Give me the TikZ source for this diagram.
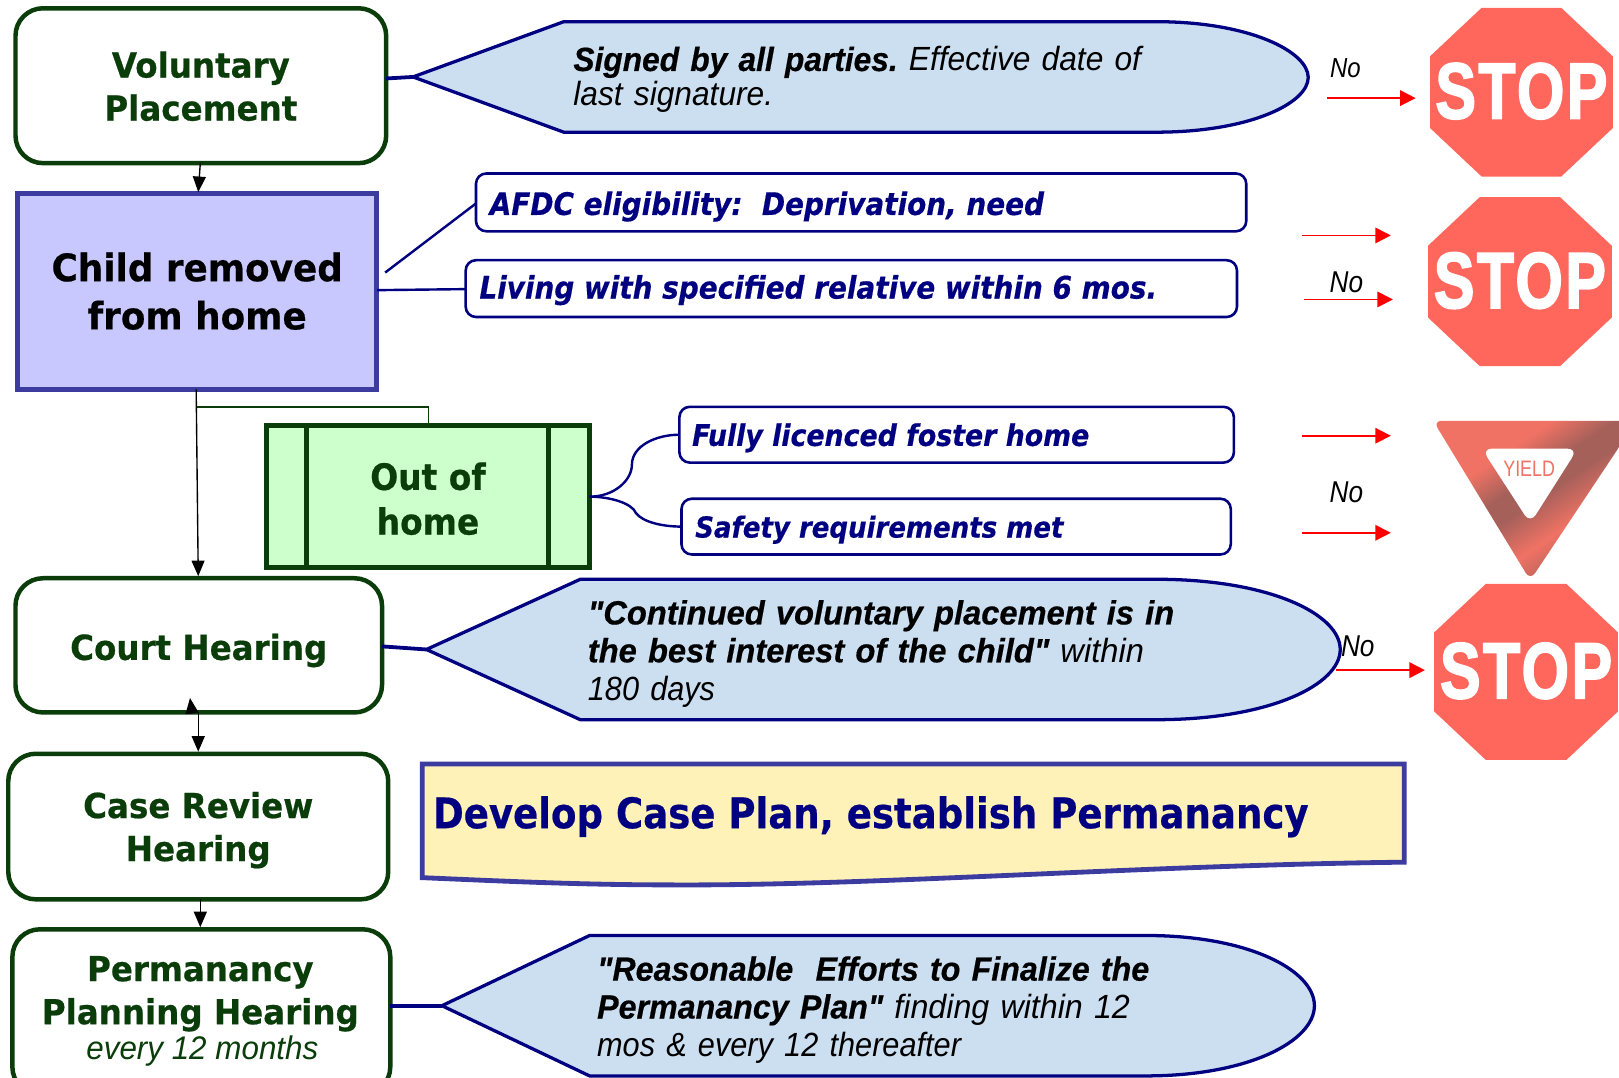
\documentclass[tikz,border=0pt]{standalone}
\usepackage{fontspec}
\setmainfont{Liberation Sans}
\newfontfamily\vfont[FakeStretch=0.945,BoldFeatures={FakeBold=0.5}]{DejaVu Sans}
\newfontfamily\vfontd[FakeStretch=0.91,BoldFeatures={FakeBold=0.5}]{DejaVu Sans}
\newfontfamily\vfontn[FakeStretch=0.90,BoldItalicFeatures={FakeBold=0.5}]{DejaVu Sans}
\newfontfamily\vfontc[FakeStretch=0.88,BoldFeatures={FakeBold=0.5}]{DejaVu Sans}
\newfontfamily\cfonta[FakeStretch=0.945,BoldItalicFeatures={FakeBold=0.5}]{Liberation Sans}
\newfontfamily\cfontb[FakeStretch=0.973,BoldItalicFeatures={FakeBold=0.5}]{Liberation Sans}
\newfontfamily\cfontc[FakeStretch=0.96,BoldItalicFeatures={FakeBold=0.5}]{Liberation Sans}
\newfontfamily\cfonti[FakeStretch=0.915]{Liberation Sans}
\newfontfamily\nofont[FakeStretch=0.87]{Liberation Sans}
\newfontfamily\stopfont[UprightFont=* Bold,FakeBold=2.5,LetterSpace=4]{Liberation Sans}
\usetikzlibrary{arrows.meta}
\definecolor{dgreen}{HTML}{0B3D0B}
\definecolor{navyb}{HTML}{000080}
\definecolor{skyf}{HTML}{CCDFF1}
\definecolor{purp}{HTML}{3C3CA0}
\definecolor{lilac}{HTML}{C8C8FF}
\definecolor{mint}{HTML}{CCFFCC}
\definecolor{cream}{HTML}{FFF2B8}
\definecolor{stopred}{HTML}{FF665C}
\definecolor{yd}{HTML}{A5605A}
\definecolor{yl}{HTML}{F07264}
\pgfdeclareverticalshading{yieldsh}{100bp}{
 color(0bp)=(yd); color(27bp)=(yd); color(39bp)=(yl); color(50bp)=(yd); color(56bp)=(yd); color(66bp)=(yl); color(100bp)=(yl)}
\tikzset{
 x=0.6pt,y=-0.6pt,
 gbox/.style={draw=dgreen,line width=2.6pt,rounded corners=16pt,fill=white},
 bbox/.style={draw=navyb,line width=1.5pt,rounded corners=6pt,fill=white},
 callout/.style={draw=navyb,line width=1.9pt,fill=skyf},
 gtext/.style={font=\vfont\bfseries,text=dgreen,align=center,inner sep=0pt},
 ntext/.style={text=navyb,anchor=west,inner sep=0pt},
 ctext/.style={anchor=west,align=left,inner sep=0pt},
 nolabel/.style={inner sep=0pt},
 arr/.style={draw=black,line width=0.8pt,-{Triangle[length=9pt,width=7.5pt]}},
 redarr/.style={draw=red,line width=1pt,-{Triangle[length=9pt,width=9pt]}},
 link/.style={draw=navyb,line width=1.4pt},
 stoptext/.style={font=\stopfont\fontsize{46}{46}\selectfont,text=white,inner sep=0pt},
}
\newcommand{\stopsign}[6]{% name,left,right,top,bottom,textscale
 \fill[stopred] ({#2+50},#4) -- ({#3-50},#4) -- (#3,{#4+47}) -- (#3,{#5-47}) -- ({#3-50},#5) -- ({#2+50},#5) -- (#2,{#5-47}) -- (#2,{#4+47}) -- cycle;
 \node[stoptext,xscale=#6] (#1) at ({(#2+#3)/2},{(#4+#5)/2-1}) {STOP};
}
\newcommand{\qq}{\symbol{34}}
\begin{document}
\begin{tikzpicture}
\useasboundingbox (0,0) rectangle (1568,1044);
% left column boxes
\path[gbox] (15,8) rectangle (374,158);
\node[gtext,font=\vfont\bfseries\fontsize{20}{25}\selectfont] (vol) at (194.5,83.5) {Voluntary\\Placement};
\path[draw=purp,line width=2.8pt,fill=lilac] (17,187) rectangle (365,377);
\node[gtext,text=black,font=\vfont\bfseries\fontsize{22}{28}\selectfont] (child) at (191,282) {Child removed\\from home};
\path[draw=dgreen,line width=3pt,fill=mint] (258,412) rectangle (571,550);
\draw[dgreen,line width=3pt] (297,412) -- (297,550) (531,412) -- (531,550);
\node[gtext,font=\vfontd\bfseries\fontsize{21}{26}\selectfont] (out) at (414.5,483) {Out of\\home};
\path[gbox] (15,560) rectangle (370,690);
\node[gtext,font=\vfont\bfseries\fontsize{20}{25}\selectfont] (court) at (192.5,630) {Court Hearing};
\path[gbox] (8,730) rectangle (376,871);
\node[gtext,font=\vfont\bfseries\fontsize{20}{25}\selectfont] (case) at (192,804) {Case Review\\Hearing};
\path[gbox] (12,900) rectangle (378,1060);
\node[gtext,font=\vfont\bfseries\fontsize{20}{25}\selectfont] (perm) at (194,962.5) {Permanancy\\Planning Hearing};
\node[font=\cfontc\itshape\fontsize{19}{22}\selectfont,text=dgreen,inner sep=0pt] (every) at (196,1018) {every 12 months};
% connector anchors
\coordinate (volS) at (194,158);
\coordinate (childN) at (192,186);
\coordinate (childS) at (190,377);
\coordinate (courtN) at (192,558);
\coordinate (courtS) at (192,690);
\coordinate (caseN) at (192,728);
\coordinate (caseS) at (194,871);
\coordinate (permN) at (194,898);
\coordinate (outN) at (415,412);
\coordinate (branch) at (190.5,394);
\coordinate (upA) at (186,691);
\coordinate (upB) at (184,676);
\draw[arr] (volS) -- (childN);
\draw[arr] (childS) -- (courtN);
\draw[arr] (courtS) -- (caseN);
\draw[arr] (caseS) -- (permN);
\draw[arr] (upA) -- (upB);
\draw[dgreen,line width=0.9pt] (branch) -| (outN);
% callouts
\coordinate (tipA) at (400,74.5);
\coordinate (tipB) at (413,629);
\coordinate (tipC) at (428,974);
\path[callout] (tipA) -- (546,21) -- (1120,21) .. controls (1210,21) and (1267,50) .. (1267,75) .. controls (1267,100) and (1210,128) .. (1120,128) -- (546,128) -- cycle;
\path[callout] (tipB) -- (562,561) -- (1120,561) .. controls (1230,561) and (1298,595) .. (1298,629) .. controls (1298,663) and (1230,697) .. (1120,697) -- (562,697) -- cycle;
\path[callout] (tipC) -- (571,906) -- (1110,906) .. controls (1210,906) and (1273,940) .. (1273,974) .. controls (1273,1008) and (1210,1042) .. (1110,1042) -- (571,1042) -- cycle;
\coordinate (volE) at (374,76);
\coordinate (courtE) at (370,626);
\coordinate (permE) at (378,974);
\draw[navyb,line width=2.2pt] (volE) -- (tipA);
\draw[navyb,line width=2.2pt] (courtE) -- (tipB);
\draw[navyb,line width=2.2pt] (permE) -- (tipC);
\node[ctext,text width=600pt,font=\cfonta\itshape\fontsize{19.5}{20}\selectfont] (ta) at (555,77) {\textbf{Signed by all parties.}\ Effective date of\\last signature.};
\node[ctext,text width=600pt,font=\cfontb\itshape\fontsize{19.5}{22}\selectfont] (tb) at (569,633) {\textbf{\qq Continued voluntary placement is in}\\\textbf{the best interest of the child\qq} within\\{\cfonti\itshape 180 days}};
\node[ctext,text width=600pt,font=\cfontc\itshape\fontsize{19.5}{22}\selectfont] (tc) at (578,978) {\textbf{\qq Reasonable\ \ Efforts to Finalize the}\\\textbf{Permanancy Plan\qq} finding within 12\\{\cfonti\itshape mos \& every 12 thereafter}};
% blue boxes
\path[bbox] (461,168) rectangle (1207,224);
\node[ntext,font=\vfontn\bfseries\itshape\fontsize{18}{22}\selectfont] (afdc) at (474,200) {AFDC eligibility:\ \ Deprivation, need};
\path[bbox] (451,252) rectangle (1198,307);
\node[ntext,font=\vfontn\bfseries\itshape\fontsize{18}{22}\selectfont] (living) at (464,281) {Living with specified relative within 6 mos.};
\path[bbox] (658,394) rectangle (1195,448);
\node[ntext,font=\vfontn\bfseries\itshape\fontsize{17.3}{22}\selectfont] (fully) at (670,424) {Fully licenced foster home};
\path[bbox] (660,483) rectangle (1192,537);
\node[ntext,font=\vfontn\bfseries\itshape\fontsize{16.8}{22}\selectfont] (safety) at (673,513) {Safety requirements met};
\coordinate (childE) at (373,264);
\coordinate (afdcW) at (461,197);
\coordinate (childF) at (365,281);
\coordinate (livingW) at (451,280);
\coordinate (outE) at (571,481);
\coordinate (fullyW) at (658,421);
\coordinate (safetyW) at (660,510);
\draw[link] (childE) -- (afdcW);
\draw[link] (childF) -- (livingW);
\draw[link] (outE) .. controls (595,481) and (612,465) .. (612,450) .. controls (612,432) and (635,421) .. (fullyW);
\draw[link] (outE) .. controls (590,481) and (612,487) .. (616,497) .. controls (622,505) and (640,510) .. (safetyW);
% yellow
\path[draw=purp,line width=2.8pt,fill=cream] (409,740) -- (1360,740) -- (1360,835) .. controls (1100,838) and (850,858) .. (650,857) .. controls (560,857) and (480,853) .. (409,850) -- cycle;
\node[font=\vfontc\bfseries\fontsize{24.5}{28}\selectfont,text=navyb,anchor=west,inner sep=0pt] (dev) at (419,791) {Develop Case Plan, establish Permanancy};
% red arrows and No
\coordinate (ra1) at (1285,95); \coordinate (rb1) at (1371,95);
\coordinate (ra2) at (1261,228); \coordinate (rb2) at (1347,228);
\coordinate (ra3) at (1263,290); \coordinate (rb3) at (1349,290);
\coordinate (ra4) at (1261,422); \coordinate (rb4) at (1347,422);
\coordinate (ra5) at (1261,516); \coordinate (rb5) at (1347,516);
\coordinate (ra6) at (1294,649); \coordinate (rb6) at (1380,649);
\foreach \n in {1,...,6} {\draw[redarr] (ra\n) -- (rb\n);}
\node[nolabel,font=\nofont\itshape\fontsize{16}{18}\selectfont] (no1) at (1303,66) {No};
\node[nolabel,font=\nofont\itshape\fontsize{17.5}{18}\selectfont] (no2) at (1304,273) {No};
\node[nolabel,font=\nofont\itshape\fontsize{17.5}{18}\selectfont] (no3) at (1304,477) {No};
\node[nolabel,font=\nofont\itshape\fontsize{17.5}{18}\selectfont] (no4) at (1315,626) {No};
% signs
\stopsign{stopA}{1385}{1562}{7.5}{171}{0.77}
\stopsign{stopB}{1383}{1561}{191}{354.5}{0.77}
\stopsign{stopC}{1389}{1567}{565.5}{736}{0.77}
\begin{scope}
\clip (0,0) rectangle (1568,1044);
\path[shading=yieldsh,shading angle=34,rounded corners=5pt] (1388,407.5) -- (1585,407.5) -- (1482,562) -- cycle;
\fill[white,rounded corners=6pt] (1435,434.5) -- (1528,434.5) -- (1482,507) -- cycle;
\end{scope}
\node[font=\fontsize{13}{14}\selectfont,text=yl,xscale=0.8,inner sep=0pt] (yield) at (1481,454) {YIELD};
\end{tikzpicture}
\end{document}
